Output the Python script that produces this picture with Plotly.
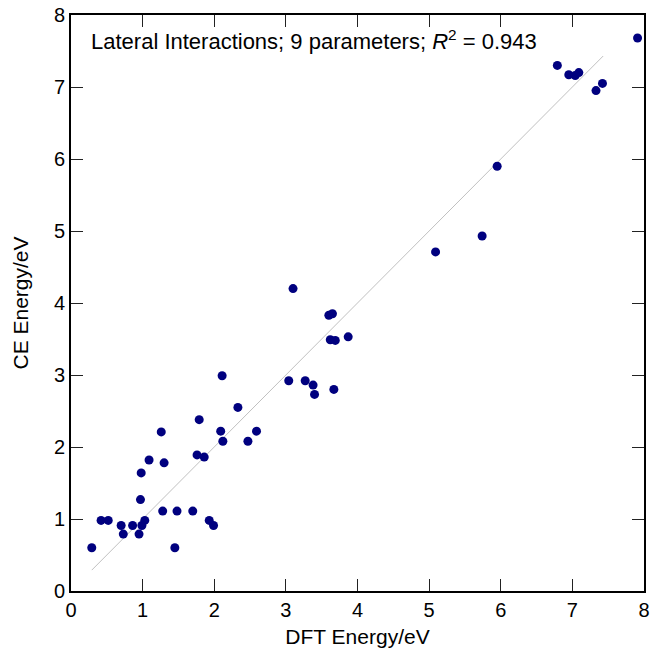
import plotly.graph_objects as go

# DFT vs cluster-expansion energies (eV)
dft = [0.29, 0.42, 0.52, 0.70, 0.73, 0.86, 0.95, 0.99, 1.03, 0.97,
       0.98, 1.09, 1.30, 1.26, 1.28, 1.48, 1.45, 1.70, 1.79, 1.76,
       1.86, 1.93, 1.99, 2.09, 2.12, 2.33, 2.47, 2.59, 2.11,
       3.10, 3.60, 3.65, 3.62, 3.69, 3.87, 3.04, 3.27, 3.38, 3.40, 3.67,
       7.91, 6.79, 6.95, 7.04, 7.09, 7.33, 7.42, 5.95, 5.74, 5.09]
ce = [0.60, 0.98, 0.98, 0.91, 0.79, 0.91, 0.79, 0.91, 0.98, 1.27,
      1.64, 1.82, 1.78, 2.21, 1.11, 1.11, 0.60, 1.11, 2.38, 1.89,
      1.86, 0.98, 0.91, 2.22, 2.08, 2.55, 2.08, 2.22, 2.99,
      4.20, 3.83, 3.85, 3.49, 3.48, 3.53, 2.92, 2.92, 2.86, 2.73, 2.80,
      7.68, 7.30, 7.17, 7.16, 7.20, 6.95, 7.05, 5.90, 4.93, 4.71]

# parity line ends
line_x = [0.29, 7.43]
line_y = [0.29, 7.43]

tick_vals = [0, 1, 2, 3, 4, 5, 6, 7, 8]

fig = go.Figure()
fig.add_trace(go.Scatter(x=line_x, y=line_y, mode='lines',
                         line=dict(color='#c0c0c0', width=1),
                         hoverinfo='skip', showlegend=False))
fig.add_trace(go.Scatter(x=dft, y=ce, mode='markers',
                         marker=dict(color='#00007f', size=9, line=dict(width=0)),
                         showlegend=False, cliponaxis=False))

axis_style = dict(range=[0, 8], tickmode='array', tickvals=tick_vals,
                  ticks='inside', ticklen=12, tickcolor='#222', tickwidth=1,
                  showline=True, linecolor='black', linewidth=2, mirror='ticks',
                  showgrid=False, zeroline=False, automargin=False,
                  tickfont=dict(size=20, color='black'))

fig.update_layout(
    template='simple_white',
    width=650, height=652,
    margin=dict(l=71, r=6, t=15, b=61),
    plot_bgcolor='white', paper_bgcolor='white',
    font=dict(family='Liberation Sans, Arial, sans-serif', color='black'),
    xaxis=dict(**axis_style,
               title=dict(text='DFT Energy/eV', font=dict(size=21), standoff=9)),
    yaxis=dict(**axis_style, ticksuffix='\u00a0\u00a0\u00a0',
               title=dict(text='CE Energy/eV', font=dict(size=21), standoff=20)),
    annotations=[dict(text='Lateral Interactions; 9 parameters; <i>R</i><sup>2</sup> = 0.943',
                      xref='paper', yref='paper', x=0.032, y=0.957,
                      xanchor='left', yanchor='middle', showarrow=False,
                      font=dict(size=22, color='black'))],
)

# page body has a default 8px margin; drop it so the figure fills the window
fig.write_html('out.html', config={'displayModeBar': False},
               post_script="document.body.style.margin='0';")
